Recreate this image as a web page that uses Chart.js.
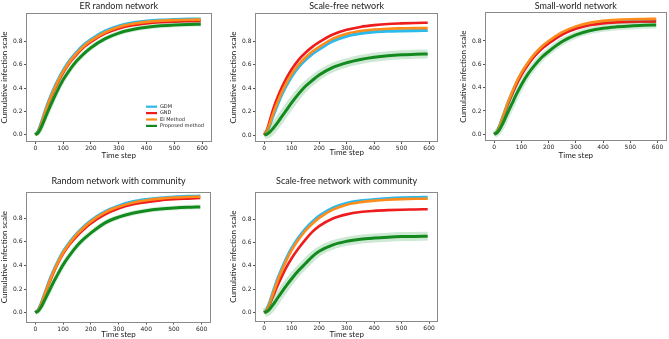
<!DOCTYPE html>
<html>
<head>
<meta charset="utf-8">
<script src="https://cdn.jsdelivr.net/npm/chart.js@4.4.1/dist/chart.umd.min.js"></script>
<style>
  html, body { margin: 0; padding: 0; background: #fff; }
  #wrap { position: relative; width: 669px; height: 339px; overflow: hidden; background: #fff; }
  canvas { position: absolute; }
</style>
</head>
<body>
<div id="wrap">
  <canvas id="c1"></canvas>
  <canvas id="c2"></canvas>
  <canvas id="c3"></canvas>
  <canvas id="c4"></canvas>
  <canvas id="c5"></canvas>
</div>
<script>
const timeSteps = [0, 10, 20, 30, 40, 50, 65, 80, 100, 125, 150, 175, 200, 250, 300, 350, 400, 450, 500, 550, 595];
const seriesNames = ['GDM', 'GND', 'EI Method', 'Proposed method'];
const xTicks = [0, 100, 200, 300, 400, 500, 600];
const yTicks = [0, 0.2, 0.4, 0.6, 0.8];

// ER random network
const erGDM      = [0, 0.028, 0.092, 0.165, 0.236, 0.30, 0.385, 0.46, 0.55, 0.64, 0.71, 0.77, 0.815, 0.885, 0.93, 0.957, 0.972, 0.981, 0.986, 0.989, 0.99];
const erGND      = [0, 0.024, 0.082, 0.15, 0.218, 0.28, 0.365, 0.44, 0.53, 0.62, 0.69, 0.75, 0.795, 0.865, 0.91, 0.937, 0.953, 0.963, 0.968, 0.971, 0.972];
const erEI       = [0, 0.025, 0.085, 0.155, 0.225, 0.29, 0.375, 0.45, 0.54, 0.63, 0.70, 0.76, 0.805, 0.875, 0.922, 0.95, 0.966, 0.975, 0.981, 0.984, 0.985];
const erProposed = [0, 0.017, 0.058, 0.112, 0.17, 0.225, 0.305, 0.38, 0.47, 0.56, 0.635, 0.695, 0.745, 0.82, 0.87, 0.90, 0.92, 0.932, 0.939, 0.943, 0.945];

// Scale-free network
const sfGDM      = [0, 0.03, 0.085, 0.15, 0.21, 0.27, 0.35, 0.42, 0.50, 0.58, 0.64, 0.69, 0.73, 0.80, 0.842, 0.865, 0.878, 0.884, 0.887, 0.889, 0.89];
const sfGND      = [0, 0.045, 0.12, 0.20, 0.27, 0.33, 0.41, 0.48, 0.56, 0.64, 0.70, 0.75, 0.79, 0.855, 0.895, 0.92, 0.935, 0.945, 0.95, 0.954, 0.956];
const sfEI       = [0, 0.035, 0.095, 0.165, 0.23, 0.29, 0.37, 0.44, 0.52, 0.60, 0.66, 0.71, 0.75, 0.82, 0.862, 0.885, 0.898, 0.905, 0.908, 0.91, 0.91];
const sfProposed = [0, 0.008, 0.025, 0.05, 0.08, 0.11, 0.16, 0.21, 0.275, 0.35, 0.415, 0.465, 0.51, 0.575, 0.615, 0.643, 0.662, 0.675, 0.683, 0.687, 0.69];

// Small-world network
const swGDM      = [0, 0.02, 0.07, 0.135, 0.20, 0.265, 0.35, 0.43, 0.52, 0.61, 0.685, 0.745, 0.79, 0.865, 0.915, 0.945, 0.962, 0.971, 0.976, 0.978, 0.98];
const swGND      = [0, 0.018, 0.065, 0.127, 0.19, 0.253, 0.337, 0.417, 0.508, 0.598, 0.673, 0.733, 0.778, 0.855, 0.905, 0.935, 0.951, 0.959, 0.963, 0.965, 0.966];
const swEI       = [0, 0.021, 0.072, 0.138, 0.204, 0.27, 0.356, 0.437, 0.528, 0.618, 0.693, 0.753, 0.80, 0.875, 0.925, 0.955, 0.972, 0.981, 0.986, 0.988, 0.99];
const swProposed = [0, 0.012, 0.042, 0.085, 0.135, 0.185, 0.26, 0.335, 0.425, 0.52, 0.595, 0.66, 0.71, 0.795, 0.852, 0.888, 0.909, 0.921, 0.929, 0.934, 0.937];

// Random network with community
const rcGDM      = [0, 0.02, 0.07, 0.135, 0.20, 0.265, 0.35, 0.425, 0.515, 0.60, 0.67, 0.73, 0.78, 0.855, 0.905, 0.94, 0.96, 0.973, 0.981, 0.986, 0.989];
const rcGND      = [0, 0.018, 0.064, 0.125, 0.188, 0.25, 0.335, 0.41, 0.498, 0.582, 0.65, 0.708, 0.757, 0.832, 0.884, 0.918, 0.938, 0.953, 0.962, 0.968, 0.973];
const rcEI       = [0, 0.019, 0.067, 0.13, 0.194, 0.258, 0.343, 0.418, 0.508, 0.593, 0.663, 0.722, 0.772, 0.848, 0.898, 0.933, 0.954, 0.968, 0.977, 0.982, 0.985];
const rcProposed = [0, 0.012, 0.043, 0.088, 0.135, 0.183, 0.255, 0.32, 0.405, 0.49, 0.565, 0.625, 0.675, 0.76, 0.81, 0.843, 0.865, 0.879, 0.888, 0.894, 0.897];

// Scale-free network with community
const scGDM      = [0, 0.03, 0.09, 0.16, 0.23, 0.295, 0.38, 0.46, 0.55, 0.64, 0.715, 0.775, 0.825, 0.895, 0.935, 0.955, 0.967, 0.975, 0.98, 0.983, 0.985];
const scGND      = [0, 0.022, 0.07, 0.127, 0.185, 0.24, 0.315, 0.385, 0.465, 0.55, 0.625, 0.69, 0.74, 0.805, 0.84, 0.86, 0.87, 0.876, 0.88, 0.882, 0.884];
const scEI       = [0, 0.027, 0.082, 0.15, 0.215, 0.28, 0.365, 0.445, 0.535, 0.625, 0.70, 0.76, 0.81, 0.88, 0.922, 0.944, 0.957, 0.965, 0.97, 0.973, 0.974];
const scProposed = [0, 0.01, 0.032, 0.062, 0.095, 0.13, 0.18, 0.23, 0.29, 0.36, 0.42, 0.48, 0.525, 0.58, 0.61, 0.628, 0.638, 0.645, 0.65, 0.652, 0.654];

const COLORS = ['#2cb9ec', '#ee1c1c', '#ff8c1a', '#138a1e'];
const TXT = '#222';

const panels = [
  { id: 'c1', title: 'ER random network', data: [erGDM, erGND, erEI, erProposed],
    left: 0, top: 0, w: 214, h: 170, padR: 3.5, tTop: 0.5, tBot: 2.7, xh: 29, xtPad: 10, ymin: -0.053, ymax: 1.033,
    band: 5, bandColor: 'rgba(60,170,90,0.18)', legend: true },
  { id: 'c2', title: 'Scale-free network', data: [sfGDM, sfGND, sfEI, sfProposed],
    left: 229, top: 0, w: 212, h: 170, padR: 3.7, tTop: 0.5, tBot: 2.7, xh: 29, xtPad: 12.5, ymin: -0.051, ymax: 1.03,
    band: 9, bandColor: 'rgba(60,170,90,0.26)' },
  { id: 'c3', title: 'Small-world network', data: [swGDM, swGND, swEI, swProposed],
    left: 459, top: 0, w: 210, h: 170, padR: 3.3, tTop: 0.5, tBot: 2, xh: 30, xtPad: 10, ymin: -0.049, ymax: 1.037,
    band: 7, bandColor: 'rgba(60,170,90,0.24)' },
  { id: 'c4', title: 'Random network with community', data: [rcGDM, rcGND, rcEI, rcProposed],
    left: 0, top: 170, w: 214, h: 169, padR: 4, tTop: 5.5, tBot: 6.4, xh: 17.5, xtPad: 0, ymin: -0.076, ymax: 1.018,
    band: 5, bandColor: 'rgba(60,170,90,0.18)' },
  { id: 'c5', title: 'Scale-free network with community', data: [scGDM, scGND, scEI, scProposed],
    left: 229, top: 170, w: 212, h: 169, padR: 3.7, tTop: 5.5, tBot: 6.4, xh: 18.3, xtPad: 0, ymin: -0.068, ymax: 1.025,
    band: 9, bandColor: 'rgba(60,170,90,0.26)' }
];

const pts = arr => arr.map((v, i) => ({ x: timeSteps[i], y: v }));

// matplotlib-like box around the axes
const framePlugin = {
  id: 'frame',
  afterDatasetsDraw(chart) {
    const { ctx, chartArea: a } = chart;
    ctx.save();
    ctx.strokeStyle = '#8a8a8a';
    ctx.lineWidth = 1;
    ctx.strokeRect(Math.round(a.left) - 0.5, Math.round(a.top) - 0.5, Math.round(a.width) + 1, Math.round(a.height) + 1);
    ctx.restore();
  }
};

// small legend inside the first panel
const legendPlugin = {
  id: 'innerLegend',
  afterDraw(chart, args, opts) {
    if (!opts.show) return;
    const ctx = chart.ctx;
    ctx.save();
    ctx.font = '5px "DejaVu Sans"';
    ctx.textBaseline = 'middle';
    seriesNames.forEach((name, i) => {
      const y = opts.y + i * opts.dy;
      ctx.strokeStyle = COLORS[i];
      ctx.lineWidth = 2.2;
      ctx.beginPath();
      ctx.moveTo(opts.x, y);
      ctx.lineTo(opts.x + opts.len, y);
      ctx.stroke();
      ctx.fillStyle = TXT;
      ctx.fillText(name, opts.x + opts.len + 3, y);
    });
    ctx.restore();
  }
};

panels.forEach(p => {
  const cv = document.getElementById(p.id);
  cv.width = p.w; cv.height = p.h;
  cv.style.left = p.left + 'px'; cv.style.top = p.top + 'px';
  cv.style.width = p.w + 'px'; cv.style.height = p.h + 'px';

  const line = (i, order, width) => ({
    label: seriesNames[i], data: pts(p.data[i]), borderColor: COLORS[i], borderWidth: width,
    pointRadius: 0, fill: false, cubicInterpolationMode: 'monotone', order: order
  });

  const datasets = [
    line(3, 0, 3),
    { label: '', data: pts(p.data[3]), borderColor: p.bandColor, borderWidth: p.band, pointRadius: 0,
      fill: false, cubicInterpolationMode: 'monotone', order: 1 },
    line(2, 2, 2.6),
    line(1, 3, 2.6),
    line(0, 4, 3.2)
  ];

  new Chart(cv, {
    type: 'line',
    data: { datasets },
    plugins: [framePlugin, legendPlugin],
    options: {
      responsive: false,
      animation: false,
      devicePixelRatio: 1,
      layout: { padding: { left: 0, right: p.padR, top: 0, bottom: 0 } },
      plugins: {
        legend: { display: false },
        tooltip: { enabled: false },
        title: {
          display: true, text: p.title, fullSize: false, color: TXT,
          font: { family: 'Lato', size: 9, weight: 'normal' },
          padding: { top: p.tTop, bottom: p.tBot }
        },
        innerLegend: { show: !!p.legend, x: 146, y: 106.7, dy: 6.4, len: 11 }
      },
      scales: {
        x: {
          type: 'linear', min: -30, max: 630,
          afterBuildTicks: s => { s.ticks = xTicks.map(v => ({ value: v })); },
          afterFit: s => { s.height = p.xh; },
          grid: { drawOnChartArea: false, drawTicks: true, tickLength: 3, tickColor: '#555' },
          border: { display: false },
          ticks: { font: { family: 'DejaVu Sans', size: 6 }, color: TXT, padding: 1, maxRotation: 0, autoSkip: false },
          title: { display: true, text: 'Time step', color: TXT, font: { family: 'Lato', size: 8 },
                   padding: { top: 0, bottom: p.xtPad } }
        },
        y: {
          type: 'linear', min: p.ymin, max: p.ymax,
          afterBuildTicks: s => { s.ticks = yTicks.map(v => ({ value: v })); },
          afterFit: s => { s.width = 27; },
          grid: { drawOnChartArea: false, drawTicks: true, tickLength: 3, tickColor: '#555' },
          border: { display: false },
          ticks: { font: { family: 'DejaVu Sans', size: 6 }, color: TXT, padding: 1.5,
                   callback: v => v.toFixed(1) },
          title: { display: true, text: 'Cumulative infection scale', color: TXT, font: { family: 'Lato', size: 8 },
                   padding: { top: 0, bottom: 0 } }
        }
      }
    }
  });
});
</script>
</body>
</html>
